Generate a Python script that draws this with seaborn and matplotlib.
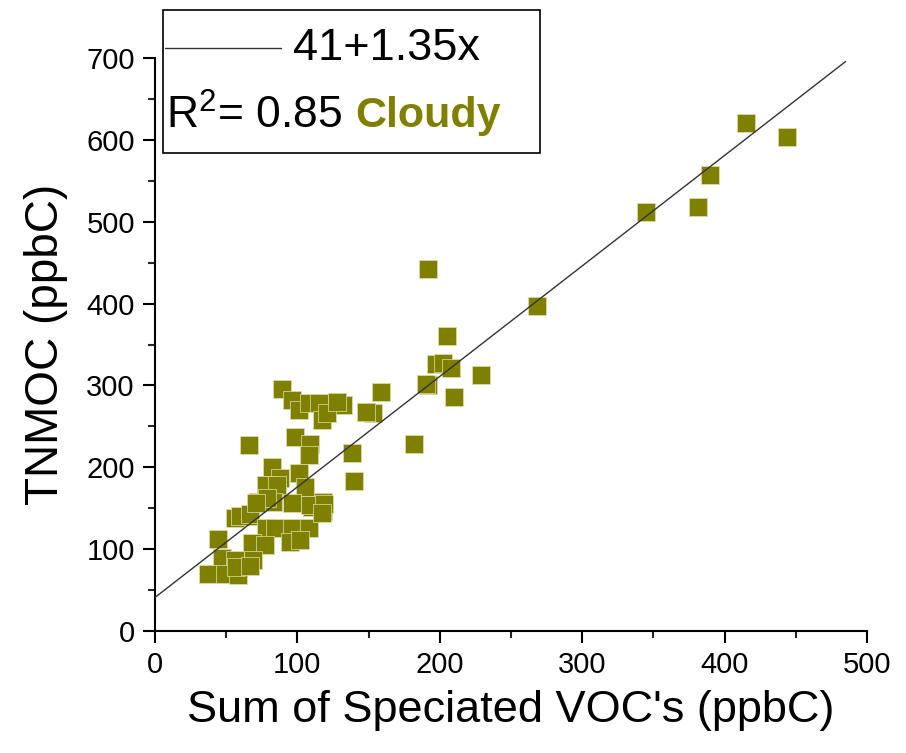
import matplotlib
matplotlib.use("Agg")
import matplotlib.pyplot as plt
import seaborn as sns
import numpy as np
import pandas as pd
from matplotlib.patches import Rectangle
from matplotlib.ticker import MultipleLocator

# ---- data ----
voc_sum = [415, 444, 390, 345, 381, 192, 268, 205, 197, 202, 208, 229, 192, 190, 210, 182,
           159, 148, 153, 138, 140, 128, 132,
           89, 96, 101, 108, 115, 117, 121, 128, 148,
           66, 98, 109, 108, 82, 101, 88, 105, 78, 86,
           72, 83, 96, 110, 118, 118, 79, 109,
           56, 65, 60, 67, 78, 84, 96, 108, 95, 102, 68, 77,
           44, 47, 56, 69, 37, 49, 58, 57, 67, 119, 117, 71]
tnmoc = [620, 603, 557, 512, 518, 442, 397, 360, 326, 327, 321, 313, 300, 302, 286, 228,
         292, 267, 266, 217, 183, 280, 276,
         296, 282, 270, 278, 278, 258, 266, 280, 268,
         227, 237, 229, 215, 200, 193, 187, 176, 178, 178,
         158, 158, 156, 152, 158, 146, 162, 154,
         138, 140, 141, 143, 126, 126, 126, 126, 109, 111, 107, 105,
         113, 89, 87, 87, 70, 70, 68, 78, 80, 155, 144, 156]

fit_intercept = 41
fit_slope = 1.35
fit_x = [0, 485]
fit_y = [fit_intercept + fit_slope * v for v in fit_x]

x_ticks = [0, 100, 200, 300, 400, 500]
y_ticks = [0, 100, 200, 300, 400, 500, 600, 700]

olive = "#808000"

sns.set_theme(style="ticks")
plt.rcParams["font.family"] = ["Liberation Sans", "DejaVu Sans"]
plt.rcParams["text.color"] = "black"
plt.rcParams["axes.labelcolor"] = "black"
plt.rcParams["mathtext.fontset"] = "custom"
plt.rcParams["mathtext.rm"] = "Liberation Sans"

fig = plt.figure(figsize=(9.06, 7.53), dpi=100)
ax = fig.add_axes([155 / 906, 1 - 631 / 753, (867 - 155) / 906, (631 - 58) / 753])

df = pd.DataFrame({"x": voc_sum, "y": tnmoc})
sns.scatterplot(data=df, x="x", y="y", marker="s", s=175, color=olive,
                edgecolor="#e0e0b0", linewidth=0.5, ax=ax, zorder=3)
sns.lineplot(x=fit_x, y=fit_y, color="#333333", linewidth=1.0, ax=ax, zorder=4)

ax.set_xlim(0, 500)
ax.set_ylim(0, 700)
ax.set_xticks(x_ticks)
ax.set_yticks(y_ticks)
ax.xaxis.set_minor_locator(MultipleLocator(50))
ax.yaxis.set_minor_locator(MultipleLocator(50))
ax.tick_params(which="major", direction="out", length=8.5, width=1.5, labelsize=21,
               colors="black", pad=6)
ax.tick_params(which="minor", direction="out", length=5, width=1.5)
for s in ["top", "right"]:
    ax.spines[s].set_visible(False)
for s in ["left", "bottom"]:
    ax.spines[s].set_linewidth(1.5)
    ax.spines[s].set_color("black")

ax.set_xlabel("Sum of Speciated VOC's (ppbC)", fontsize=32.5, labelpad=8)
ax.set_ylabel("TNMOC (ppbC)", fontsize=33, labelpad=13)

# legend box in figure coordinates
W, H = 906, 753
def fx(px): return px / W
def fy(py): return 1 - py / H
fig.patches.append(Rectangle((fx(163), fy(153)), fx(540) - fx(163), fy(10) - fy(153),
                             transform=fig.transFigure, fill=True, facecolor="white",
                             edgecolor="black", linewidth=1.2, zorder=5))
fig.lines.append(plt.Line2D([fx(165), fx(281)], [fy(48), fy(48)], transform=fig.transFigure,
                            color="#333333", linewidth=1.0, zorder=6))
fig.text(fx(293), fy(49), "41+1.35x", fontsize=32.5, va="center", ha="left", zorder=7)
t1 = fig.text(fx(166), fy(116), r"R$^{\mathregular{2}}$= 0.85", fontsize=32, va="center",
              ha="left", zorder=7)
fig.canvas.draw()
bb = t1.get_window_extent()
fig.text((bb.x1 + 13) / W, fy(116), "Cloudy", fontsize=31, fontweight="bold", color=olive,
         va="center", ha="left", zorder=7)

fig.savefig("out.png", dpi=100)
